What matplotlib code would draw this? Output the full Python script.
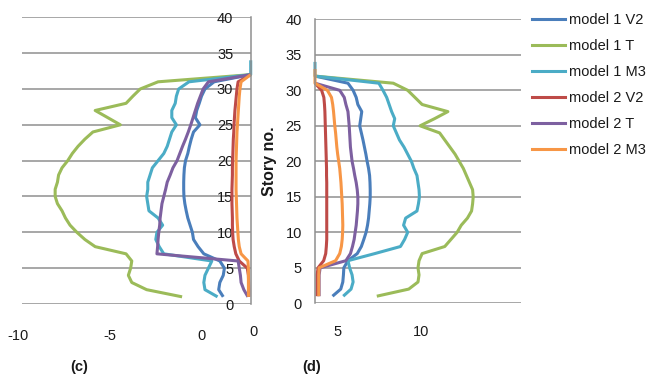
import numpy as np
import matplotlib.pyplot as plt
from matplotlib.lines import Line2D

plt.rcParams['font.family'] = ['Liberation Sans', 'DejaVu Sans']
plt.rcParams['axes.unicode_minus'] = False

# storey levels; each series is listed from storey 1 upward
stories = np.arange(1, 35)

labels = ['model 1 V2', 'model 1 T', 'model 1 M3', 'model 2 V2', 'model 2 T', 'model 2 M3']
colors = ['#4a7ebb', '#9bbb59', '#4bacc6', '#be4b48', '#7d60a0', '#f79646']

# panel (c)
c_m1_v2 = [-1.2, -1.4, -1.35, -1.2, -1.15, -1.35, -2.05, -2.3, -2.5, -2.55,
           -2.65, -2.75, -2.82, -2.88, -2.92, -2.93, -2.93, -2.92, -2.9, -2.85,
           -2.75, -2.68, -2.6, -2.5, -2.22, -2.42, -2.36, -2.25, -2.15, -2.0,
           -1.6, 0.0]
c_m1_t = [-3.0, -4.55, -5.2, -5.35, -5.25, -5.2, -5.45, -6.8, -7.25, -7.6,
          -7.9, -8.1, -8.25, -8.45, -8.55, -8.55, -8.45, -8.4, -8.25, -8.0,
          -7.8, -7.55, -7.25, -6.9, -5.7, -6.25, -6.8, -5.45, -5.15, -4.83,
          -4.05, 0.0]
c_m1_m3 = [-1.45, -2.0, -2.05, -2.0, -1.85, -1.7, -3.8, -4.0, -4.15, -4.1,
           -3.85, -4.05, -4.45, -4.5, -4.55, -4.5, -4.5, -4.4, -4.3, -4.05,
           -3.8, -3.65, -3.55, -3.45, -3.25, -3.45, -3.45, -3.3, -3.25, -3.15,
           -2.7, 0.0, 0.0, 0.0]
c_m2_v2 = [-0.08, -0.08, -0.09, -0.1, -0.15, -0.5, -0.65, -0.72, -0.77, -0.79,
           -0.8, -0.8, -0.81, -0.82, -0.82, -0.82, -0.81, -0.8, -0.8, -0.79,
           -0.78, -0.77, -0.76, -0.74, -0.73, -0.71, -0.69, -0.66, -0.63, -0.6,
           -0.55, 0.0]
c_m2_t = [-0.12, -0.3, -0.42, -0.45, -0.5, -0.55, -4.1, -4.07, -4.05, -4.02,
          -3.98, -3.96, -3.92, -3.88, -3.8, -3.72, -3.65, -3.52, -3.4, -3.22,
          -3.1, -2.98, -2.85, -2.73, -2.62, -2.52, -2.42, -2.32, -2.2, -2.08,
          -1.85, 0.0]
c_m2_m3 = [-0.1, -0.1, -0.1, -0.1, -0.1, -0.12, -0.42, -0.5, -0.54, -0.56,
           -0.58, -0.6, -0.61, -0.62, -0.63, -0.64, -0.64, -0.64, -0.64, -0.64,
           -0.63, -0.62, -0.61, -0.6, -0.58, -0.56, -0.54, -0.52, -0.5, -0.47,
           -0.42, 0.0]

# panel (d)
d_m1_v2 = [0.85, 1.25, 1.35, 1.38, 1.4, 1.6, 2.05, 2.25, 2.37, 2.48,
           2.55, 2.6, 2.63, 2.66, 2.68, 2.68, 2.67, 2.65, 2.6, 2.53,
           2.47, 2.4, 2.33, 2.25, 2.17, 2.22, 2.27, 2.08, 2.0, 1.85,
           1.6, 0.0]
d_m1_t = [3.0, 4.55, 5.0, 5.05, 5.0, 5.05, 5.2, 6.3, 6.6, 6.9,
          7.1, 7.4, 7.6, 7.65, 7.68, 7.65, 7.5, 7.35, 7.2, 7.0,
          6.8, 6.55, 6.3, 6.05, 5.1, 5.8, 6.45, 5.2, 4.85, 4.5,
          3.8, 0.0]
d_m1_m3 = [1.37, 1.75, 1.85, 1.8, 1.68, 1.6, 2.9, 4.15, 4.35, 4.5,
           4.3, 4.4, 4.95, 5.02, 5.07, 5.05, 5.0, 4.95, 4.8, 4.68,
           4.5, 4.32, 4.1, 3.95, 3.8, 3.87, 3.72, 3.6, 3.48, 3.3,
           3.1, 0.0, 0.0, 0.0]
d_m2_v2 = [0.1, 0.1, 0.1, 0.1, 0.15, 0.42, 0.52, 0.55, 0.57, 0.57,
           0.57, 0.57, 0.57, 0.57, 0.57, 0.57, 0.57, 0.56, 0.56, 0.55,
           0.54, 0.53, 0.52, 0.51, 0.5, 0.49, 0.48, 0.46, 0.43, 0.32,
           0.0]
d_m2_t = [0.2, 0.2, 0.2, 0.2, 0.25, 1.5, 1.72, 1.82, 1.9, 1.95,
          2.0, 2.03, 2.06, 2.08, 2.08, 2.05, 2.0, 1.93, 1.87, 1.8,
          1.76, 1.72, 1.7, 1.68, 1.66, 1.63, 1.6, 1.5, 1.42, 1.2,
          0.0]
d_m2_m3 = [0.18, 0.18, 0.18, 0.18, 0.2, 1.0, 1.2, 1.28, 1.32, 1.34,
           1.35, 1.34, 1.33, 1.32, 1.3, 1.28, 1.26, 1.23, 1.2, 1.15,
           1.1, 1.06, 1.03, 1.0, 0.96, 0.93, 0.9, 0.86, 0.8, 0.6,
           0.0, 0.0, 0.0]

y_ticks = np.arange(0, 41, 5)
grid_col = '#8f8f8f'
txt_col = '#1a1a1a'
fs = 10.5

W, H = 648, 377
fig = plt.figure(figsize=(W / 100, H / 100), dpi=100)


def px_box(x0, y0, x1, y1):
    """pixel corners (top-left origin) -> figure fraction rect"""
    return [x0 / W, 1 - y1 / H, (x1 - x0) / W, (y1 - y0) / H]


def draw_panel(ax, series, xlim):
    for vals, col in zip(series, colors):
        ax.plot(vals, stories[:len(vals)], color=col, lw=2.2,
                solid_joinstyle='round', solid_capstyle='butt', clip_on=False)
    ax.set_xlim(*xlim)
    ax.set_ylim(0, 40)
    ax.set_yticks(y_ticks)
    ax.set_xticks([])
    ax.grid(axis='y', color=grid_col, lw=1.1)
    ax.set_axisbelow(True)
    for s in ['top', 'right', 'bottom']:
        ax.spines[s].set_visible(False)
    ax.spines['left'].set_color(grid_col)
    ax.spines['left'].set_linewidth(1.1)


def tick_strip(rect, lim, ticks):
    sa = fig.add_axes(rect)
    sa.set_xlim(*lim)
    sa.set_xticks(ticks)
    sa.set_yticks([])
    sa.patch.set_alpha(0)
    for s in sa.spines.values():
        s.set_visible(False)
    sa.tick_params(axis='x', length=0, pad=0, labelsize=fs, labelcolor=txt_col)
    return sa


# (c): value axis sits at x = 0 on the right edge, labels inside the plot
ax_c = fig.add_axes(px_box(22, 17.3, 250.7, 304))
draw_panel(ax_c, [c_m1_v2, c_m1_t, c_m1_m3, c_m2_v2, c_m2_t, c_m2_m3], (-10, 0))
ax_c.spines['left'].set_position(('data', 0))
ax_c.tick_params(axis='y', length=0, pad=12.5, labelsize=fs, labelcolor=txt_col)

# (d)
ax_d = fig.add_axes(px_box(315, 19.3, 521, 303.3))
draw_panel(ax_d, [d_m1_v2, d_m1_t, d_m1_m3, d_m2_v2, d_m2_t, d_m2_m3], (0, 10))
ax_d.tick_params(axis='y', length=0, pad=9.5, labelsize=fs, labelcolor=txt_col)
ax_d.set_ylabel('Story no.', fontsize=11.5, fontweight='bold', color=txt_col, labelpad=6)

# horizontal axis labels
tick_strip(px_box(17.5, 328, 201.7, 328.5), (-10, 0), [-10, -5, 0])
tick_strip(px_box(254, 324.5, 420.7, 325), (0, 10), [0, 5, 10])

fig.text(79 / W, 1 - 367 / H, '(c)', ha='center', va='center',
         fontsize=fs, fontweight='bold', color=txt_col)
fig.text(312 / W, 1 - 367 / H, '(d)', ha='center', va='center',
         fontsize=fs, fontweight='bold', color=txt_col)

handles = [Line2D([], [], color=c, lw=2.2) for c in colors]
fig.legend(handles, labels, loc='upper left', bbox_to_anchor=(532 / W, 1 - 13 / H),
           frameon=False, fontsize=fs, handlelength=2.25, handletextpad=0.28,
           labelspacing=0.82, borderpad=0, borderaxespad=0, labelcolor=txt_col)

fig.savefig('out.png', dpi=100)
